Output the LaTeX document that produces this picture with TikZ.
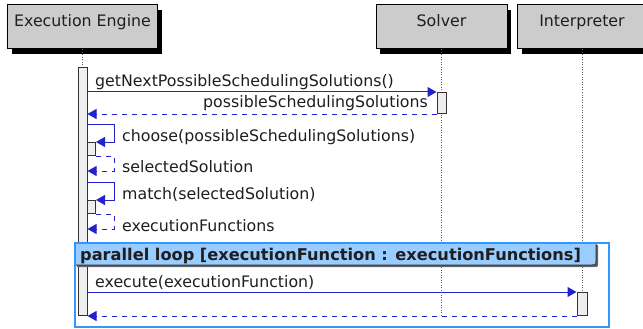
\documentclass[tikz,border=0pt]{standalone}
\usepackage{fontspec}
\setmainfont{DejaVu Sans}
\usetikzlibrary{arrows.meta}
\definecolor{msg}{RGB}{34,34,204}
\definecolor{boxgray}{RGB}{204,204,204}
\definecolor{actfill}{RGB}{238,238,238}
\definecolor{loopborder}{RGB}{51,150,255}
\definecolor{loopfill}{RGB}{153,204,255}
\definecolor{lifecol}{RGB}{90,90,90}
\definecolor{txtcol}{RGB}{30,30,30}
\begin{document}
\begin{tikzpicture}[x=1pt,y=-1pt,
  font=\fontsize{15.8}{18}\selectfont,
  partbox/.style={draw=black, line width=1pt, fill=boxgray, minimum height=44pt, inner sep=0pt},
  partshadow/.style={fill=black},
  actbar/.style={draw=black!80, line width=1pt, fill=actfill, minimum width=9pt, inner sep=0pt},
  lifeline/.style={draw=lifecol, line width=1pt, dash pattern=on 1pt off 1.5pt},
  call/.style={draw=msg, line width=1pt, -{Triangle[length=9pt,width=10pt]}},
  ret/.style={draw=msg, line width=1pt, dash pattern=on 5pt off 5pt, -{Triangle[length=9pt,width=10pt]}},
  lbl/.style={anchor=base west, inner sep=0pt, text=txtcol},
  rlbl/.style={anchor=base east, inner sep=0pt, text=txtcol},
  plbl/.style={anchor=base, inner sep=0pt, text=txtcol}
]
\useasboundingbox (0,0) rectangle (643,329);
% participants
\fill[partshadow] (12,10) rectangle (162,54);
\fill[partshadow] (380,10) rectangle (511,54);
\fill[partshadow] (522,10) rectangle (652,54);
\node[partbox, minimum width=150pt] (ee) at (82.5,27) {};
\node[partbox, minimum width=131pt] (sol) at (441.5,27) {};
\node[partbox, minimum width=130pt] (intp) at (582,27) {};
\node[plbl] (eeLbl) at (82.5,27) {Execution Engine};
\node[plbl] (solLbl) at (441.5,27) {Solver};
\node[plbl] (intpLbl) at (582,27) {Interpreter};
% lifeline ends
\coordinate (eeEnd) at (82.5,315);
\coordinate (solEnd) at (441.5,315);
\coordinate (intpEnd) at (582,315);
\draw[lifeline] (ee.south) -- (eeEnd);
\draw[lifeline] (sol.south) -- (solEnd);
\draw[lifeline] (intp.south) -- (intpEnd);
% activation bars
\node[actbar, minimum height=248pt, anchor=north] (eeAct) at (82.5,67) {};
\node[actbar, minimum height=21pt, anchor=north] (solAct) at (441.5,92) {};
\node[actbar, minimum height=23pt, minimum width=10pt, anchor=north] (intpAct) at (582,292) {};
\node[actbar, minimum height=13pt, minimum width=8pt, anchor=north west] (nb1) at (87,142) {};
\node[actbar, minimum height=13pt, minimum width=8pt, anchor=north west] (nb2) at (87,200) {};
% loop fragment
\fill[black!60] (77,245) -- (598,245) -- (598,263) .. controls (598,267) .. (594,267) -- (77,267) -- cycle;
\draw[fill=loopfill, draw=black!80, line width=1pt] (75,243) -- (596,243) -- (596,261) .. controls (596,265) .. (592,265) -- (75,265) -- cycle;
\draw[loopborder, line width=1.8pt] (75,243) rectangle (609,327);
\node[lbl, font=\fontsize{16.2}{18}\selectfont\bfseries] (loopLbl) at (80,260) {parallel loop [executionFunction : executionFunctions]};
% messages
\draw[call] (eeAct.east |- solAct.north) -- (solAct.north west);
\node[lbl] (m1) at (95,87) {getNextPossibleSchedulingSolutions()};
\draw[ret] (solAct.south west) -- (eeAct.east |- solAct.south);
\node[rlbl] (m2) at (428,107) {possibleSchedulingSolutions};
% self call 1
\coordinate (c1) at (114,124);
\draw[call] (eeAct.east |- c1) -- (c1) |- (nb1.north east);
\node[lbl] (m3) at (122,141) {choose(possibleSchedulingSolutions)};
\coordinate (r1) at (114,171);
\draw[ret] (nb1.south east) -| (r1) -- (eeAct.east |- r1);
\node[lbl] (m4) at (122,172) {selectedSolution};
% self call 2
\coordinate (c2) at (114,182);
\draw[call] (eeAct.east |- c2) -- (c2) |- (nb2.north east);
\node[lbl] (m5) at (122,199) {match(selectedSolution)};
\coordinate (r2) at (114,229);
\draw[ret] (nb2.south east) -| (r2) -- (eeAct.east |- r2);
\node[lbl] (m6) at (122,231) {executionFunctions};
% execute
\draw[call] (eeAct.east |- intpAct.north) -- (intpAct.north west);
\node[lbl] (m7) at (95,287) {execute(executionFunction)};
\draw[ret] (intpAct.south west) -- (eeAct.east |- intpAct.south);
\end{tikzpicture}
\end{document}
